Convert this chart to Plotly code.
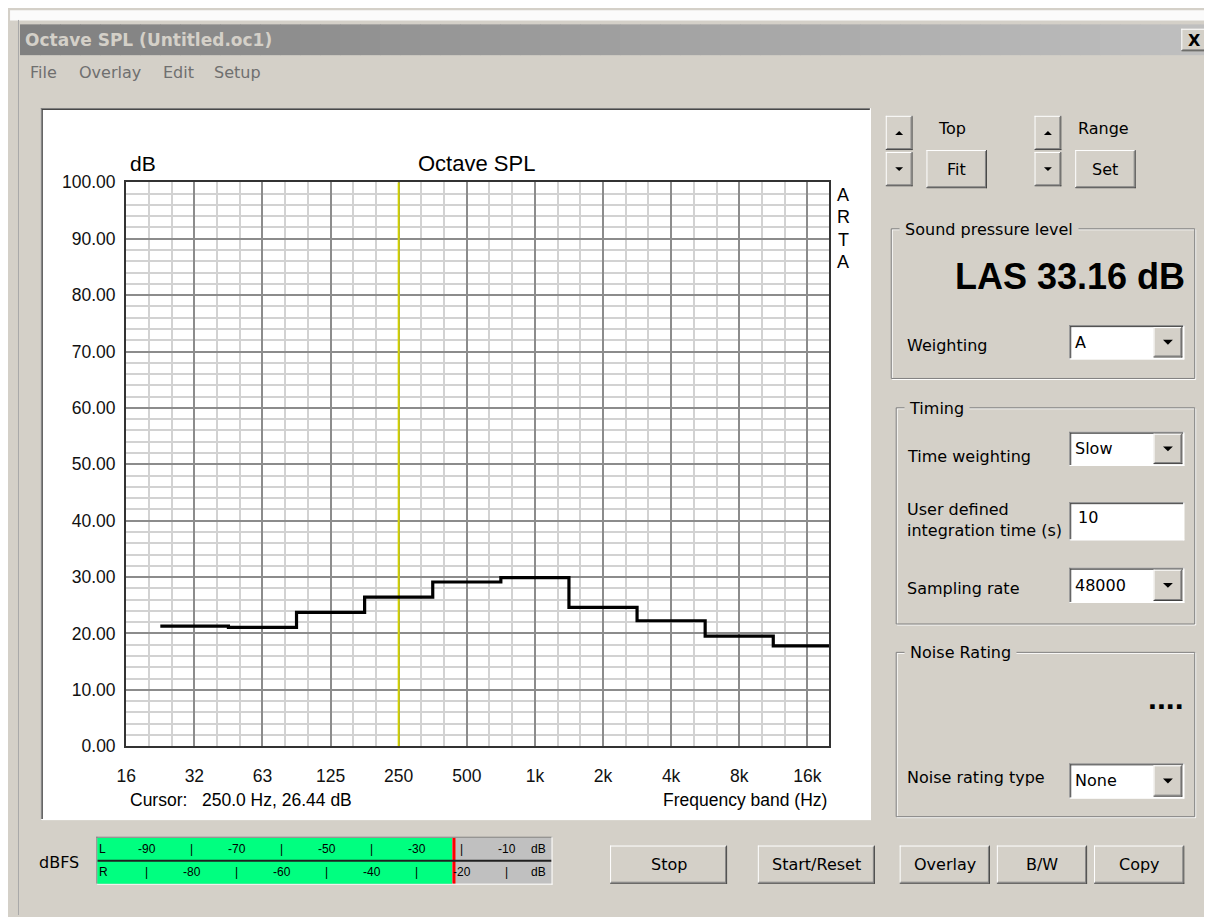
import math
import plotly.graph_objects as go

# ---------------- data ----------------
band_centers_hz = [31.25, 62.5, 125, 250, 500, 1000, 2000, 4000, 8000, 16000]
band_levels_db = [21.3, 21.07, 23.74, 26.44, 29.13, 29.9, 24.62, 22.26, 19.54, 17.81]
x_tick_hz = [15.625, 31.25, 62.5, 125, 250, 500, 1000, 2000, 4000, 8000, 16000]
x_tick_labels = ["16", "32", "63", "125", "250", "500", "1k", "2k", "4k", "8k", "16k"]
cursor_hz = 250.0
cursor_db = 26.44
las_db = 33.16
meter_channels = ["L", "R"]
meter_level_dbfs = [-22.0, -22.0]
meter_peak_dbfs = [-21.7, -21.7]
meter_top_labels = [-90, -70, -50, -30, -10]
meter_bottom_labels = [-80, -60, -40, -20]
meter_min_dbfs = -101

# ---------------- helpers ----------------
W, H = 1212, 917
OX, OY = 8, 8          # page body margin: figure origin sits at (8, 8) on screen
BG = "#d4d0c8"
UI_FONT = "DejaVu Sans, Verdana, sans-serif"
CH_FONT = "Liberation Sans, Arial, sans-serif"


def px(x):
    return (x - OX) / W


def py(y):
    return 1 - (y - OY) / H


shapes = []
annots = []


def rect(x0, y0, x1, y1, fill, layer="below"):
    shapes.append(dict(type="rect", xref="paper", yref="paper",
                       x0=px(x0), x1=px(x1), y0=py(y0), y1=py(y1),
                       fillcolor=fill, layer=layer, line=dict(width=0)))


def hline(x0, x1, y, color, lw=1, layer="below"):
    shapes.append(dict(type="line", xref="paper", yref="paper",
                       x0=px(x0), x1=px(x1), y0=py(y), y1=py(y),
                       line=dict(color=color, width=lw), layer=layer))


def vline(x, y0, y1, color, lw=1, layer="below"):
    shapes.append(dict(type="line", xref="paper", yref="paper",
                       x0=px(x), x1=px(x), y0=py(y0), y1=py(y1),
                       line=dict(color=color, width=lw), layer=layer))


def tri(cx, cy, up=False, size=4):
    if up:
        pts = [(cx - size, cy + size / 2), (cx + size, cy + size / 2), (cx, cy - size / 2)]
    else:
        pts = [(cx - size, cy - size / 2), (cx + size, cy - size / 2), (cx, cy + size / 2)]
    path = "M " + " L ".join(f"{px(a)},{py(b)}" for a, b in pts) + " Z"
    shapes.append(dict(type="path", xref="paper", yref="paper", path=path,
                       fillcolor="#000000", line=dict(width=0), layer="below"))


def text(x, y, s, size=16, anchor="left", font=UI_FONT, color="#000000",
         bold=False, bg=None, yanchor="middle"):
    d = dict(x=px(x), y=py(y), xref="paper", yref="paper", text=s,
             showarrow=False, xanchor=anchor, yanchor=yanchor, borderpad=0,
             align=anchor if anchor in ("left", "right") else "center",
             font=dict(family=font, size=size, color=color,
                       weight="bold" if bold else "normal"))
    if bg:
        d["bgcolor"] = bg
    annots.append(d)


def raised(x0, y0, x1, y1):
    rect(x0, y0, x1, y1, BG)
    hline(x0, x1, y0 + 0.5, "#ffffff")
    vline(x0 + 0.5, y0, y1, "#ffffff")
    hline(x0, x1, y1 - 0.5, "#404040")
    vline(x1 - 0.5, y0, y1, "#404040")
    hline(x0 + 1, x1 - 1, y1 - 1.5, "#808080")
    vline(x1 - 1.5, y0 + 1, y1 - 1, "#808080")


def sunken(x0, y0, x1, y1, fill="#ffffff"):
    rect(x0, y0, x1, y1, fill)
    hline(x0, x1, y0 + 0.5, "#808080")
    vline(x0 + 0.5, y0, y1, "#808080")
    hline(x0 + 1, x1 - 1, y0 + 1.5, "#404040")
    vline(x0 + 1.5, y0 + 1, y1 - 1, "#404040")
    hline(x0, x1, y1 - 0.5, "#ffffff")
    vline(x1 - 0.5, y0, y1, "#ffffff")


def button(x0, y0, x1, y1, label, size=16):
    raised(x0, y0, x1, y1)
    text((x0 + x1) / 2, (y0 + y1) / 2, label, size=size, anchor="center")


def combo(x0, y0, x1, y1, value):
    sunken(x0, y0, x1, y1)
    raised(x1 - 31, y0 + 2, x1 - 2, y1 - 2)
    tri(x1 - 16.5, (y0 + y1) / 2, size=5)
    text(x0 + 5, (y0 + y1) / 2, value, size=16)


def groupbox(x0, y0, x1, y1, title):
    shapes.append(dict(type="rect", xref="paper", yref="paper",
                       x0=px(x0 + 1.5), x1=px(x1 + 0.5), y0=py(y0 + 1.5), y1=py(y1 + 0.5),
                       line=dict(color="#ffffff", width=1), fillcolor="rgba(0,0,0,0)", layer="below"))
    shapes.append(dict(type="rect", xref="paper", yref="paper",
                       x0=px(x0 + 0.5), x1=px(x1 - 0.5), y0=py(y0 + 0.5), y1=py(y1 - 0.5),
                       line=dict(color="#808080", width=1), fillcolor="rgba(0,0,0,0)", layer="below"))
    text(x0 + 8, y0 + 1, "\u00a0" + title + "\u00a0", size=16, bg=BG)


# ---------------- window chrome ----------------
rect(0, 0, W + OX, 10.5, "#fbfbfb")
vline(8.5, 10, H + OY, "#a8a8a8")
n_strips = 60
x_start, x_end = 10, W + OX
for i in range(n_strips):
    t = i / (n_strips - 1)
    c = int(round(128 + (192 - 128) * t))
    xa = x_start + (x_end - x_start) * i / n_strips
    xb = x_start + (x_end - x_start) * (i + 1) / n_strips + 0.6
    rect(xa, 14.5, xb, 46, f"rgb({c},{c},{c})")
text(14, 31, "Octave SPL (Untitled.oc1)", size=17, bold=True, color="#d4d0c8")
raised(1181, 19, 1207, 42)
text(1194, 30.5, "X", size=16, bold=True, anchor="center")

for label, x in [("File", 19), ("Overlay", 68), ("Edit", 153), ("Setup", 205)]:
    text(x, 64, label, size=16, color="#6f6f6f")

# chart panel
sunken(31, 100, 868, 828)

# ---------------- right controls ----------------
raised(883, 108, 910, 143)
tri(896.5, 125.5, up=True)
raised(883, 145, 910, 180)
tri(896.5, 162.5)
text(950, 121, "Top", size=16, anchor="center")
button(924, 143, 985, 182, "Fit")

raised(1033, 108, 1060, 143)
tri(1046.5, 125.5, up=True)
raised(1033, 145, 1060, 180)
tri(1046.5, 162.5)
text(1103, 121, "Range", size=16, anchor="center")
button(1074, 143, 1135, 182, "Set")

groupbox(888, 223, 1195, 377, "Sound pressure level")
text(1186, 272, f"LAS {las_db:.2f} dB", size=36, anchor="right",
     font=CH_FONT, bold=True)
text(903, 343, "Weighting", size=16)
combo(1068, 322, 1184, 357, "A")

groupbox(893, 406, 1195, 628, "Timing")
text(903, 456, "Time weighting", size=16)
combo(1068, 431, 1184, 466, "Slow")
text(903, 521, "User defined<br>integration time (s)", size=16)
sunken(1068, 503, 1184, 542)
text(1076, 519, "10", size=16)
text(903, 591, "Sampling rate", size=16)
combo(1068, 570, 1184, 606, "48000")

groupbox(893, 656, 1195, 825, "Noise Rating")
text(1185, 703, "....", size=32, anchor="right", font=CH_FONT, bold=True)
text(903, 784, "Noise rating type", size=16)
combo(1068, 770, 1184, 806, "None")

# ---------------- bottom ----------------
text(49, 871, "dBFS", size=16, anchor="center")
button(605, 854, 723, 893, "Stop")
button(754, 854, 872, 893, "Start/Reset")
button(897, 854, 988, 893, "Overlay")
button(995, 854, 1086, 893, "B/W")
button(1093, 854, 1184, 893, "Copy")

# meter frame and background
rect(88, 846, 546, 893, "#c0c0c0")
hline(87, 547, 845.5, "#808080")
vline(87.5, 845, 894, "#808080")
hline(87, 547, 893.5, "#ffffff")
vline(546.5, 845, 894, "#ffffff")

# ---------------- chart text ----------------
text(120, 157, "dB", size=21, font=CH_FONT)
text(470, 157, "Octave SPL", size=22, font=CH_FONT, anchor="center")
for i, ch in enumerate("ARTA"):
    text(840, 189 + i * 22.8, ch, size=18, font=CH_FONT, anchor="center")
text(120, 807, f"Cursor:\u00a0\u00a0\u00a0{cursor_hz:.1f} Hz, {cursor_db:.2f} dB",
     size=17.5, font=CH_FONT)
text(825, 807, "Frequency band (Hz)", size=17.5, font=CH_FONT, anchor="right")

# ---------------- traces ----------------
sq2 = math.sqrt(2)
step_x = [c / sq2 for c in band_centers_hz] + [band_centers_hz[-1] * sq2]
step_y = band_levels_db + [band_levels_db[-1]]

fig = go.Figure()
fig.add_trace(go.Scatter(x=[cursor_hz, cursor_hz], y=[0, 100], mode="lines",
                         line=dict(color="#d2d200", width=2), xaxis="x", yaxis="y"))
fig.add_trace(go.Scatter(x=step_x, y=step_y, mode="lines", line_shape="hv",
                         line=dict(color="#000000", width=3.2), xaxis="x", yaxis="y"))

# meter bars
row_y = [1.5, 0.5]
fig.add_trace(go.Bar(orientation="h", y=row_y,
                     x=[lv - meter_min_dbfs for lv in meter_level_dbfs],
                     base=meter_min_dbfs, width=1,
                     marker=dict(color="#00ff80", line=dict(width=0)),
                     xaxis="x2", yaxis="y2"))
for pk, yy in zip(meter_peak_dbfs, row_y):
    fig.add_trace(go.Scatter(x=[pk, pk], y=[yy - 0.5, yy + 0.5], mode="lines",
                             line=dict(color="#ff0000", width=3), xaxis="x2", yaxis="y2"))
fig.add_trace(go.Scatter(x=[meter_min_dbfs, 0], y=[1, 1], mode="lines",
                         line=dict(color="#202020", width=2), xaxis="x2", yaxis="y2"))

# meter labels
MF = "Liberation Sans, Arial, sans-serif"
row_text_y = [857.5, 881.5]
for ch, yy in zip(meter_channels, row_text_y):
    text(89, yy, ch, size=12, font=MF)
    text(541, yy, "dB", size=12, font=MF, anchor="right")


def meter_label(v, yy, s):
    annots.append(dict(x=v, y=py(yy), xref="x2", yref="paper", text=s, showarrow=False,
                       xanchor="center", yanchor="middle", borderpad=0,
                       font=dict(family=MF, size=12, color="#000")))


for v in meter_top_labels:
    meter_label(v, row_text_y[0], str(v))
    meter_label(v, row_text_y[1], "|")
for v in meter_bottom_labels:
    meter_label(v, row_text_y[1], str(v))
    meter_label(v, row_text_y[0], "|")

# ---------------- axes ----------------
minor_x = [15.625 * 2 ** (k / 3) for k in range(1, 31) if k % 3 != 0]
minor_x = [m for m in minor_x if m < 20000]

fig.update_layout(
    width=W, height=H,
    margin=dict(l=0, r=0, t=0, b=0),
    paper_bgcolor=BG,
    plot_bgcolor="rgba(0,0,0,0)",
    showlegend=False,
    hovermode=False,
    bargap=0,
    xaxis=dict(
        type="log", domain=[px(117), px(826)],
        range=[math.log10(15.6), math.log10(20000)],
        tickmode="array", tickvals=x_tick_hz, ticktext=x_tick_labels,
        showgrid=True, gridcolor="#8c8c8c", gridwidth=1.5,
        minor=dict(tickmode="array", tickvals=minor_x, showgrid=True,
                   gridcolor="#d2d2d2", gridwidth=2, ticks=""),
        showline=True, linecolor="#333333", linewidth=2, mirror=True,
        ticks="", zeroline=False, ticklabelstandoff=13,
        tickfont=dict(family=CH_FONT, size=17.5, color="#111111"),
        anchor="y", fixedrange=True,
    ),
    yaxis=dict(
        domain=[py(752.5), py(176)], range=[0, 100],
        tickmode="linear", tick0=0, dtick=10, tickformat=".2f",
        showgrid=True, gridcolor="#8c8c8c", gridwidth=1.5,
        minor=dict(dtick=2, tick0=0, showgrid=True, gridcolor="#d2d2d2",
                   gridwidth=2, ticks=""),
        showline=True, linecolor="#333333", linewidth=2, mirror=True,
        ticks="", zeroline=False, ticklabelstandoff=5,
        tickfont=dict(family=CH_FONT, size=17.5, color="#111111"),
        anchor="x", fixedrange=True,
    ),
    xaxis2=dict(domain=[px(88), px(546)], range=[meter_min_dbfs, 0], visible=False,
                anchor="y2", fixedrange=True),
    yaxis2=dict(domain=[py(893), py(846)], range=[0, 2], visible=False,
                anchor="x2", fixedrange=True),
    shapes=shapes,
    annotations=annots,
)

fig.write_html("out.html")
